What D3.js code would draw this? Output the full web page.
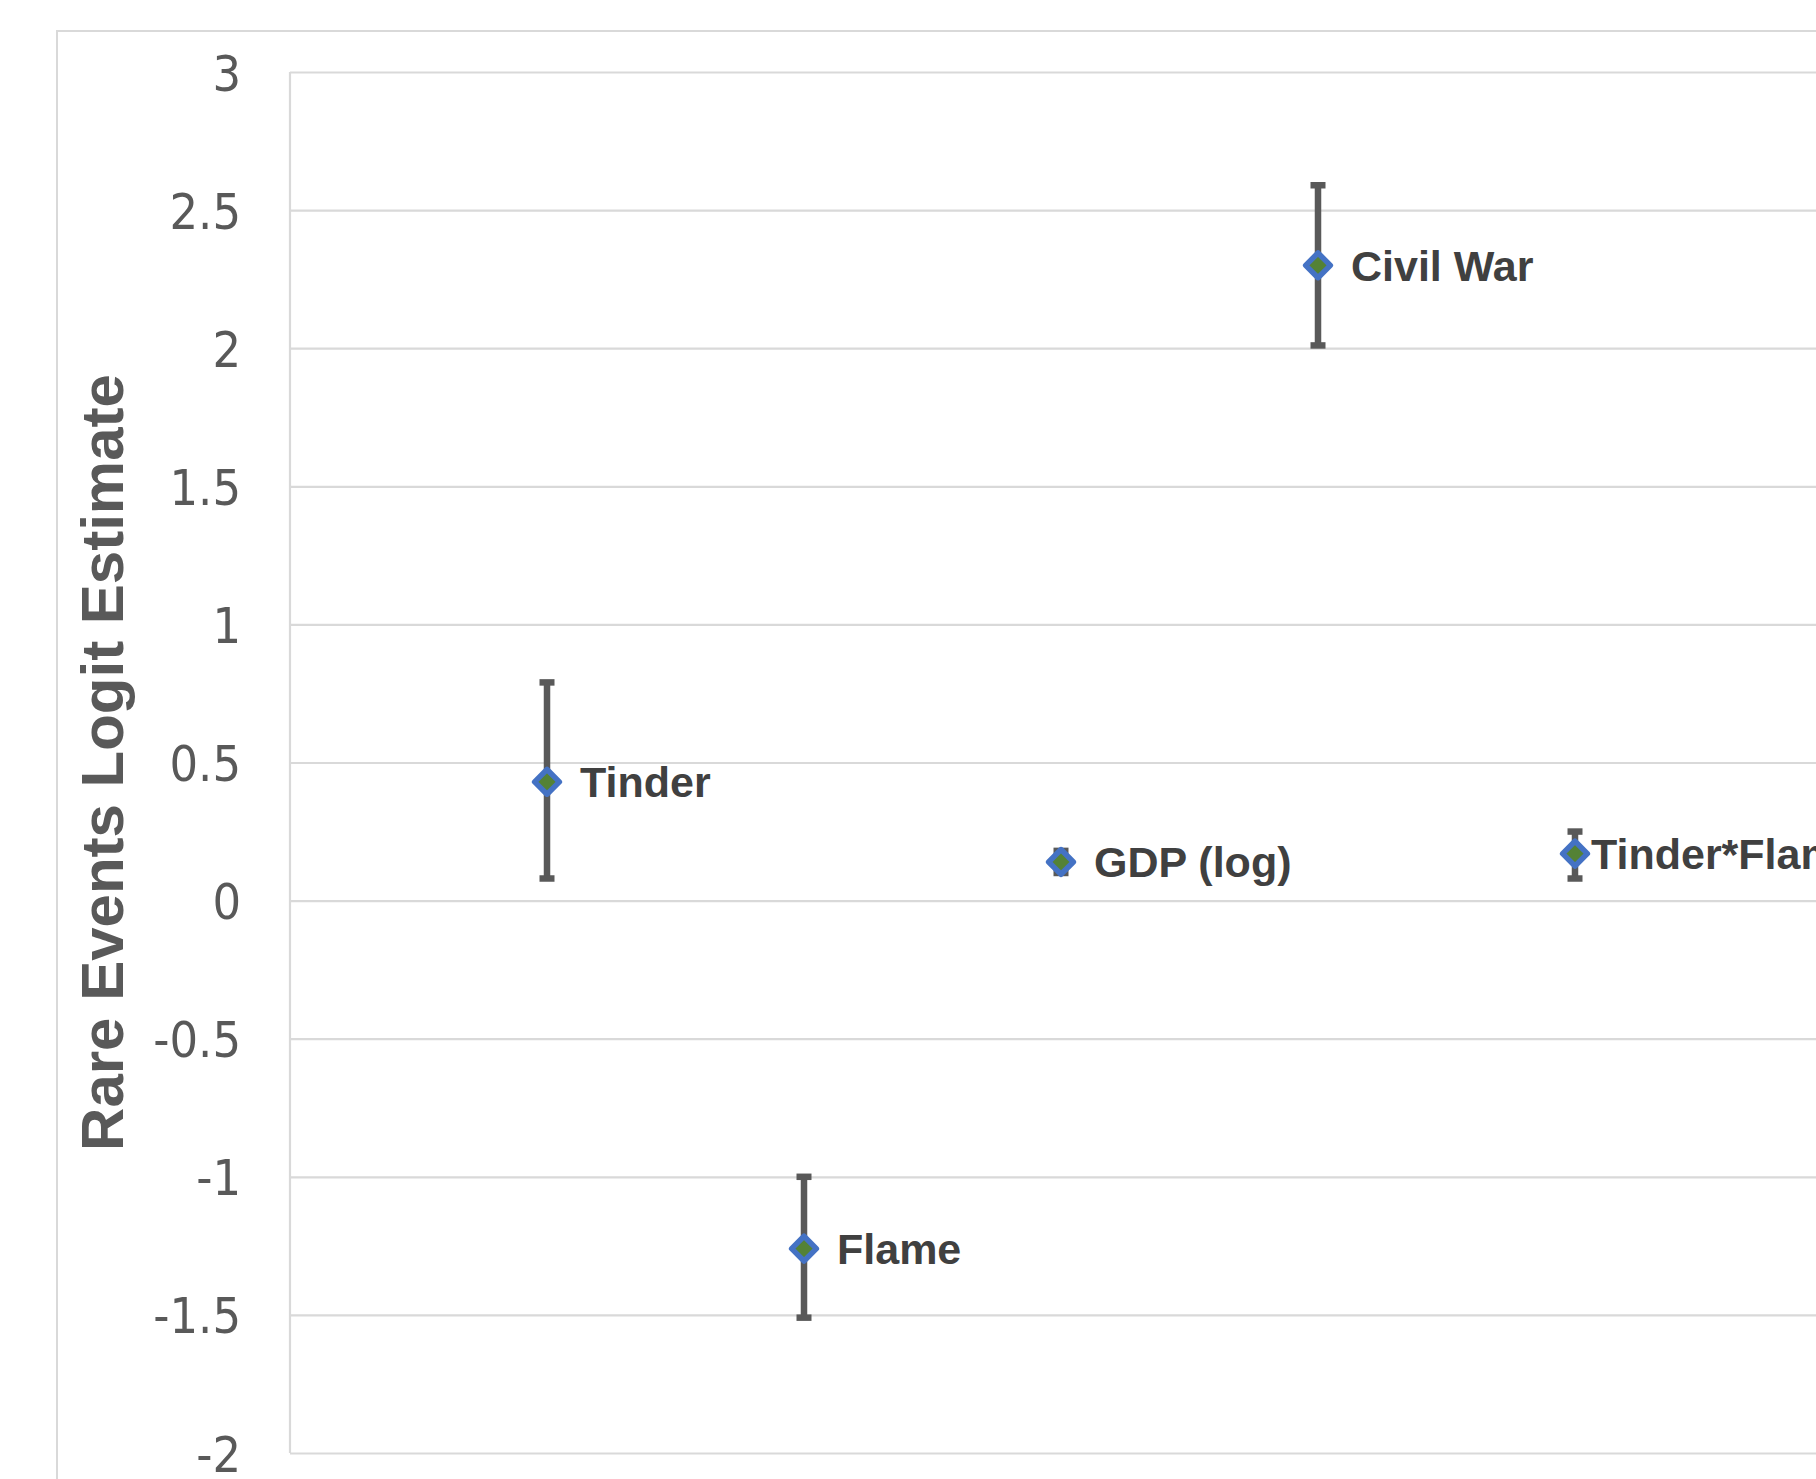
<!DOCTYPE html>
<html>
<head>
<meta charset="utf-8">
<script src="https://cdn.jsdelivr.net/npm/d3@7"></script>
<style>
  body { margin: 0; background: #fff; }
  svg { display: block; }
</style>
</head>
<body>
<script>
// values
let names = ["Tinder", "Flame", "GDP (log)", "Civil War", "Tinder*Flame"];
let xValues = [1, 2, 3, 4, 5];
let estimates = [0.43, -1.26, 0.14, 2.30, 0.17];
let upper = [0.79, -1.00, 0.18, 2.59, 0.25];
let lower = [0.08, -1.51, 0.10, 2.01, 0.08];
let yTicks = [-2, -1.5, -1, -0.5, 0, 0.5, 1, 1.5, 2, 2.5, 3];

function main(){
    let width = 1816;
    let height = 1479;

    // plot area (the chart is cropped on the right and bottom)
    let left = 290, top = 72, bottom = 1453, right = 1832;

    let svg = d3.select("body").append("svg")
        .attr("width", width)
        .attr("height", height);

    // outer chart border
    svg.append("rect")
        .attr("x", 57).attr("y", 31)
        .attr("width", 1900).attr("height", 1600)
        .attr("fill", "none")
        .attr("stroke", "#d9d9d9")
        .attr("stroke-width", 2);

    let x = d3.scaleLinear().domain([0, 6]).range([left, right]);
    let y = d3.scaleLinear().domain([-2, 3]).range([bottom, top]);

    let yAxis = svg.append("g")
        .attr("transform", "translate(" + left + ",0)")
        .call(d3.axisLeft(y)
            .tickValues(yTicks)
            .tickSize(-(right - left))
            .tickPadding(49)
            .tickFormat(d => String(d)));

    yAxis.select(".domain").remove();
    yAxis.selectAll(".tick line")
        .attr("stroke", "#d9d9d9")
        .attr("stroke-width", 2.2);
    yAxis.selectAll(".tick text")
        .attr("fill", "#595959")
        .attr("font-family", "Tahoma, 'DejaVu Sans Condensed', 'Liberation Sans', sans-serif")
        .attr("font-size", 50)
        .attr("dy", "0.36em");

    // left edge of the plot area
    svg.append("line")
        .attr("x1", left).attr("x2", left)
        .attr("y1", top).attr("y2", bottom)
        .attr("stroke", "#d9d9d9")
        .attr("stroke-width", 2.2);

    // axis title
    svg.append("text")
        .attr("transform", "translate(102," + ((top + bottom) / 2) + ") rotate(-90)")
        .attr("text-anchor", "middle")
        .attr("dominant-baseline", "central")
        .attr("font-family", "'Liberation Sans', Arial, sans-serif")
        .attr("font-weight", "bold")
        .attr("font-size", 60)
        .attr("fill", "#595959")
        .text("Rare Events Logit Estimate");

    let data = names.map(function(n, i){
        return {name: n, x: xValues[i], est: estimates[i], hi: upper[i], lo: lower[i]};
    });

    let points = svg.selectAll("g.point")
        .data(data)
        .enter()
        .append("g")
        .attr("class", "point");

    // error bars
    points.append("line")
        .attr("x1", d => x(d.x)).attr("x2", d => x(d.x))
        .attr("y1", d => y(d.hi)).attr("y2", d => y(d.lo))
        .attr("stroke", "#595959")
        .attr("stroke-width", 6.5);

    points.selectAll("line.cap")
        .data(d => [{x: d.x, v: d.hi}, {x: d.x, v: d.lo}])
        .enter()
        .append("line")
        .attr("class", "cap")
        .attr("x1", d => x(d.x) - 7.5).attr("x2", d => x(d.x) + 7.5)
        .attr("y1", d => y(d.v)).attr("y2", d => y(d.v))
        .attr("stroke", "#595959")
        .attr("stroke-width", 6.5);

    // diamond markers
    let diamond = d3.symbol().type(d3.symbolDiamond2).size(390);
    points.append("path")
        .attr("d", diamond)
        .attr("transform", d => "translate(" + x(d.x) + "," + y(d.est) + ")")
        .attr("fill", "#548235")
        .attr("stroke", "#4472c4")
        .attr("stroke-width", 5.5)
        .attr("stroke-linejoin", "round");

    // data labels
    points.append("text")
        .attr("x", d => x(d.x) + (d.name === "Tinder*Flame" ? 16 : 33))
        .attr("y", d => y(d.est))
        .attr("dy", "0.36em")
        .attr("font-family", "'Liberation Sans', Arial, sans-serif")
        .attr("font-weight", "bold")
        .attr("font-size", 43)
        .attr("fill", "#404040")
        .text(d => d.name);
}

main();
</script>
</body>
</html>
